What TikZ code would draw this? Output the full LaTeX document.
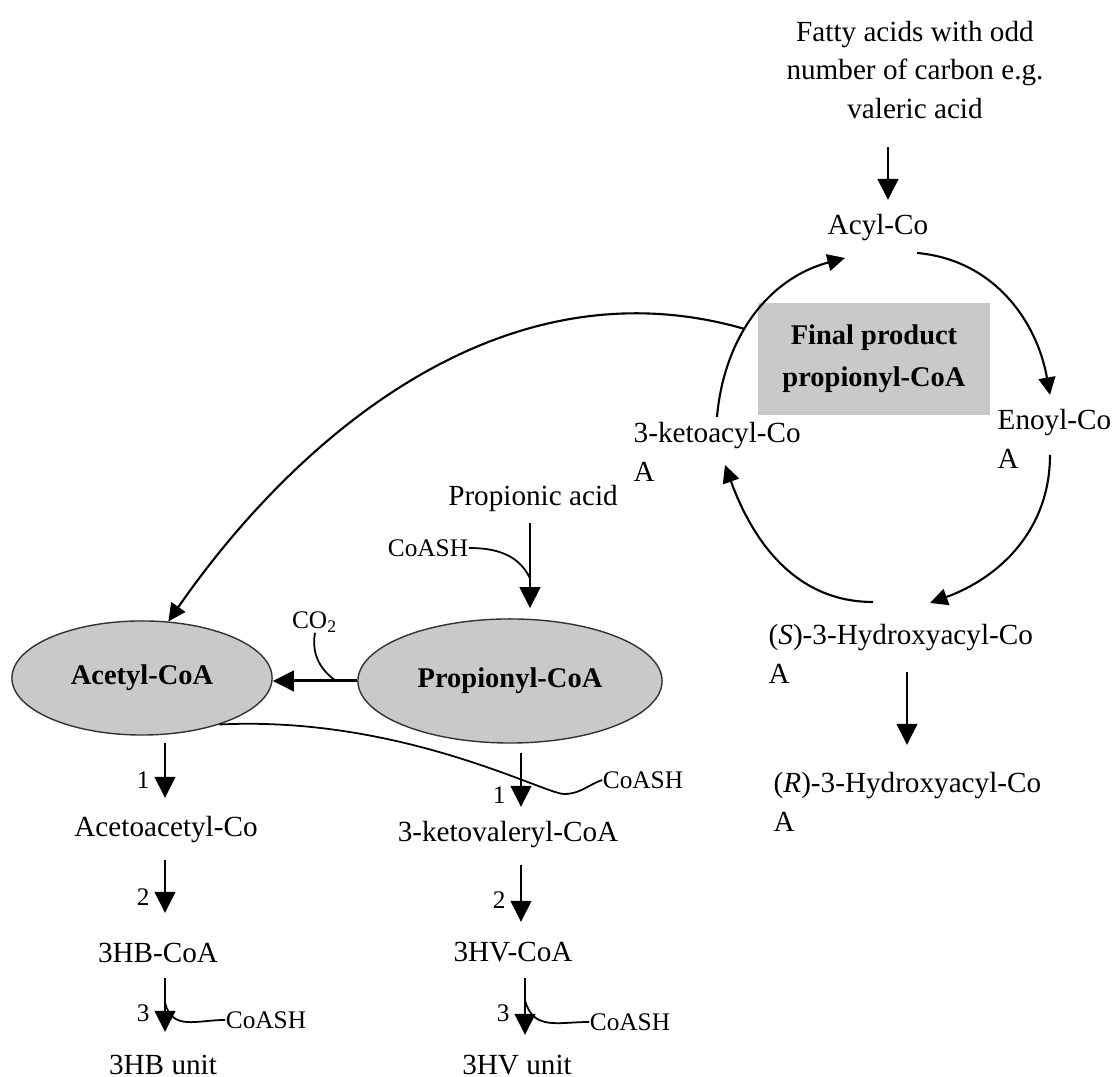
\documentclass[tikz,border=0pt]{standalone}
\usepackage{fontspec}
\setmainfont{Liberation Serif}
\usetikzlibrary{shapes.geometric,arrows.meta,calc}
\definecolor{shade}{gray}{0.79}

\begin{document}
\begin{tikzpicture}[x=0.01cm,y=-0.01cm,
  txt/.style={inner sep=0pt,font=\fontsize{8.3}{11}\selectfont},
  sml/.style={inner sep=0pt,font=\fontsize{7.2}{9}\selectfont},
  blob/.style={ellipse,draw=black!80,line width=0.4pt,fill=shade,font=\fontsize{8.1}{10}\selectfont\bfseries},
  arr/.style={-{Triangle[length=6pt,width=5.8pt]},line width=0.85pt},
  cyc/.style={-{Triangle[length=5pt,width=4.8pt]},line width=0.6pt},
  side/.style={line width=0.5pt}]
\useasboundingbox (0,0) rectangle (1114,1077);

% beta-oxidation cycle
\node[txt,align=center] (fatty) at (915,70) {Fatty acids with odd\\number of carbon e.g.\\valeric acid};
\node[txt] (acyl) at (878,228) {Acyl-Co};
\node[fill=shade,minimum width=2.32cm,minimum height=1.12cm,align=center,font=\fontsize{8.1}{12}\selectfont\bfseries] (final) at (874,359) {Final product\\propionyl-CoA};
\node[txt,align=left,anchor=west] (enoyl) at (997,439) {Enoyl-Co\\A};
\node[txt,align=left,anchor=west] (shyd) at (768,654) {(\textit{S})-3-Hydroxyacyl-Co\\A};
\node[txt,align=left,anchor=west] (rhyd) at (773,802) {(\textit{R})-3-Hydroxyacyl-Co\\A};
\node[txt,align=left,anchor=west] (keto) at (633,452) {3-ketoacyl-Co\\A};

% propionyl-CoA and acetyl-CoA
\node[txt] (propacid) at (533,498) {Propionic acid};
\node[sml] (coasha) at (428,548) {CoASH};
\node[blob,minimum width=2.6cm,minimum height=1.14cm] (acetyl) at (142,678) {Acetyl-CoA};
\node[blob,minimum width=3.04cm,minimum height=1.24cm] (propionyl) at (510,681) {Propionyl-CoA};
\node[sml] (co2) at (315,622) {CO\textsubscript{2}};

% 3HB and 3HV branches
\node[txt] (acac) at (166,830) {Acetoacetyl-Co};
\node[txt] (hbcoa) at (158,953) {3HB-CoA};
\node[txt] (hbunit) at (163,1065) {3HB unit};
\node[txt] (kval) at (508,835) {3-ketovaleryl-CoA};
\node[txt] (hvcoa) at (513,952) {3HV-CoA};
\node[txt] (hvunit) at (517,1065) {3HV unit};
\node[sml] (coashb) at (643,780) {CoASH};
\node[sml] (coashc) at (266,1020) {CoASH};
\node[sml] (coashd) at (630,1022) {CoASH};

\draw[arr] ($(fatty)+(-27,77)$) -- ($(acyl)+(10,-28)$);
\draw[cyc] ($(acyl)+(39,25)$) to[out=-5,in=100] ($(enoyl.west)+(53,-44)$);
\draw[cyc] ($(enoyl.west)+(53,16)$) to[out=-90,in=20] ($(shyd.west)+(162,-51)$);
\draw[cyc] ($(shyd.west)+(105,-52)$) to[out=180,in=-70] ($(keto.west)+(92,13)$);
\draw[cyc] ($(keto.west)+(84,-35)$) to[out=85,in=195] coordinate[pos=0.42] (branch) ($(acyl)+(-33,30)$);
\draw[cyc] (branch) .. controls +(-248,-72) and +(122,-176) .. (acetyl.65);
\draw[arr] ($(shyd.west)+(139,18)$) -- ($(rhyd.west)+(134,-57)$);

\draw[arr] ($(propacid)+(-3,25)$) -- coordinate[pos=0.65] (pj) ($(propionyl.north)+(20,-10)$);
\draw[side] (coasha.east) to[out=0,in=115] (pj);
\draw[arr] (propionyl.west) -- coordinate[pos=0.25] (cj) (propionyl.west -| acetyl.east);
\draw[side] (co2.south) to[out=-100,in=145] (cj);

\draw[arr] ($(acetyl.south)+(23,7)$) -- node[sml,left=4pt,pos=0.68]{1} ($(acac)+(-1,-32)$);
\draw[arr] ($(acac)+(-1,30)$) -- node[sml,left=4pt,pos=0.7]{2} ($(hbcoa)+(7,-40)$);
\draw[arr] ($(hbcoa)+(7,25)$) -- node[sml,left=4pt,pos=0.65]{3} coordinate[pos=0.46] (hj) ($(hbunit)+(2,-33)$);
\draw[side] (hj) to[out=-75,in=180,looseness=1.2] (coashc.west);

\draw[side] (acetyl.-31) .. controls +(181,-9) and +(-20,0) .. ($(coashb.west)+(-38,14)$) to[out=0,in=200] (coashb.west);
\draw[arr] ($(propionyl.south)+(11,9)$) -- node[sml,left=4pt,pos=0.78]{1} ($(kval)+(13,-28)$);
\draw[arr] ($(kval)+(13,30)$) -- node[sml,left=4pt,pos=0.61]{2} ($(hvcoa)+(8,-30)$);
\draw[arr] ($(hvcoa)+(12,26)$) -- node[sml,left=4pt,pos=0.61]{3} coordinate[pos=0.39] (vj) ($(hvunit)+(8,-30)$);
\draw[side] (vj) to[out=-75,in=180,looseness=1.2] (coashd.west);
\end{tikzpicture}
\end{document}
